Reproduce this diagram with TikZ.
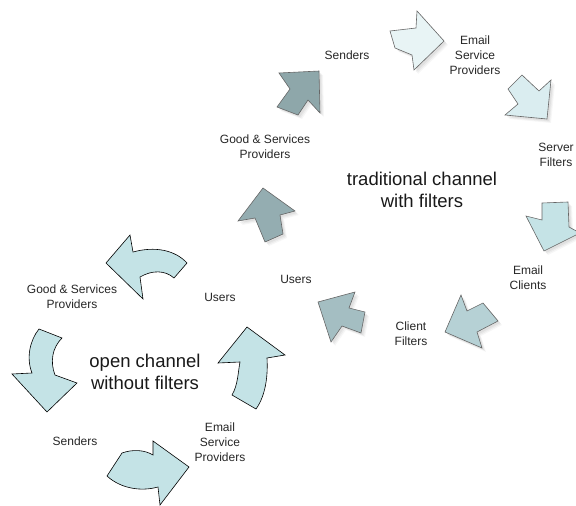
\documentclass[tikz,border=0pt]{standalone}
\usepackage{fontspec}
\setmainfont{Liberation Sans}
\usetikzlibrary{shadows}
\definecolor{ca}{HTML}{8EA7AA}
\definecolor{cb}{HTML}{E8F4F5}
\definecolor{cc}{HTML}{DAEDF0}
\definecolor{cd}{HTML}{C5E3E6}
\definecolor{ce}{HTML}{B6D1D5}
\definecolor{cf}{HTML}{A4BEC2}
\definecolor{cg}{HTML}{94ADB1}
\definecolor{openc}{HTML}{C4E3E6}
\begin{document}
\begin{tikzpicture}[x=1pt,y=-1pt,
  trad/.style={draw=black!60, line width=0.6pt, line join=miter,
    drop shadow={opacity=0.07, shadow xshift=4pt, shadow yshift=-4pt},
    drop shadow={opacity=0.09, shadow xshift=3pt, shadow yshift=-3pt},
    drop shadow={opacity=0.11, shadow xshift=2pt, shadow yshift=-2pt}},
  openarrow/.style={draw=black, line width=0.6pt, fill=openc, line join=miter},
  lbl/.style={font=\fontsize{12}{15}\selectfont, align=center, text=black!85, inner sep=0pt},
  big/.style={font=\fontsize{18.5}{22}\selectfont, align=center, text=black!90, inner sep=0pt}]
\useasboundingbox (0,0) rectangle (576,506);

% ---------- traditional channel arrows ----------
\filldraw[trad, fill=ca] (279,73) -- (319,71) -- (320,113) -- (308,100) -- (298,115) -- (277,107) -- (290,89) -- cycle;
\filldraw[trad, fill=cb] (390,31) -- (416,28) -- (417,11) -- (444,41) -- (414,70) -- (412,55) -- (395,48) -- cycle;
\filldraw[trad, fill=cc] (522,75) -- (508,89) -- (518,104) -- (505,115) -- (547,119) -- (551,80) -- (539,91) -- cycle;
\filldraw[trad, fill=cd] (542,203) -- (568,202) -- (569,227) -- (580,233) -- (544,251) -- (526,216) -- (542,220) -- cycle;
\filldraw[trad, fill=ce] (461,295) -- (467,311) -- (483,303) -- (498,321) -- (477,332) -- (482,348) -- (445,332) -- cycle;
\filldraw[trad, fill=cf] (318,302) -- (355,292) -- (349,308) -- (365,312) -- (361,333) -- (342,326) -- (331,342) -- cycle;
\filldraw[trad, fill=cg] (263,188) -- (295,211) -- (280,215) -- (283,234) -- (265,242) -- (255,218) -- (238,221) -- cycle;

% ---------- open channel arrows ----------
\filldraw[openarrow] (106,263) -- (130,235) -- (133,252) .. controls (155,246) and (175,250) .. (187,263)
  -- (174,278) .. controls (165,270) and (152,270) .. (140,277) -- (143,299) -- cycle;
\filldraw[openarrow] (39,329) -- (62,338) .. controls (52,348) and (50,362) .. (55,375)
  -- (77,383) -- (47,412) -- (12,374) -- (32,373) .. controls (26,358) and (30,340) .. (39,329) -- cycle;
\filldraw[openarrow] (107,476) -- (122,453) .. controls (133,449) and (145,450) .. (153,455)
  -- (153,441) -- (189,467) -- (160,505) -- (158,487) .. controls (140,492) and (120,488) .. (107,476) -- cycle;
\filldraw[openarrow] (247,327) -- (285,355) -- (267,358) .. controls (268,375) and (266,395) .. (256,409)
  -- (232,395) .. controls (238,385) and (238,372) .. (240,362) -- (218,363) -- cycle;

% ---------- labels ----------
\node[lbl] (tsend) at (347,55) {Senders};
\node[lbl] (tesp) at (475,55) {Email\\Service\\Providers};
\node[lbl] (tsrv) at (556,155) {Server\\Filters};
\node[big] (trad) at (422,190) {traditional channel\\with filters};
\node[lbl] (tcli) at (528,278) {Email\\Clients};
\node[lbl] (tcf) at (411,334) {Client\\Filters};
\node[lbl] (tusr) at (296,279) {Users};
\node[lbl] (tgs) at (265,147) {Good \& Services\\Providers};

\node[lbl] (ogs) at (72,297) {Good \& Services\\Providers};
\node[lbl] (ousr) at (220,297) {Users};
\node[big] (open) at (145,372) {open channel\\without filters};
\node[lbl] (osend) at (75,441) {Senders};
\node[lbl] (oesp) at (220,442) {Email\\Service\\Providers};
\end{tikzpicture}
\end{document}
